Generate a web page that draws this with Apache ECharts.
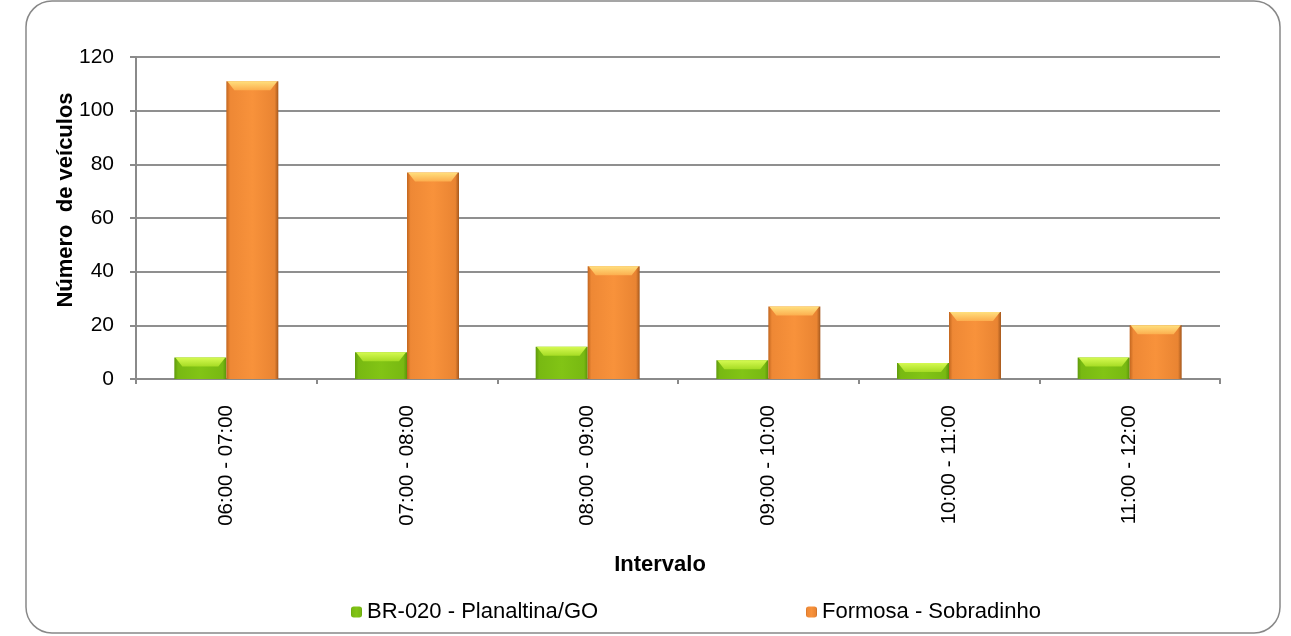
<!DOCTYPE html>
<html><head><meta charset="utf-8">
<script src="https://cdn.jsdelivr.net/npm/echarts@6/dist/echarts.min.js"></script>
<style>html,body{margin:0;padding:0;background:#fff}#c{width:1291px;height:636px}</style>
</head><body><div id="c"></div>
<script>
const categories = ['06:00 - 07:00','07:00 - 08:00','08:00 - 09:00','09:00 - 10:00','10:00 - 11:00','11:00 - 12:00'];
const seriesNames = ['BR-020 - Planaltina/GO','Formosa - Sobradinho'];
const planaltina = [8, 10, 12, 7, 6, 8];
const formosa = [111, 77, 42, 27, 25, 20];
const yTicks = [0, 20, 40, 60, 80, 100, 120];

const font = '"Liberation Sans", Arial, sans-serif';
const chart = echarts.init(document.getElementById('c'));
const greenFill = new echarts.graphic.LinearGradient(0,0,1,0,[
  {offset:0,color:'#5f9a0c'},{offset:0.07,color:'#78b912'},{offset:0.5,color:'#82c415'},{offset:0.93,color:'#78b912'},{offset:1,color:'#5a940a'}]);
const orangeFill = new echarts.graphic.LinearGradient(0,0,1,0,[
  {offset:0,color:'#c2661f'},{offset:0.07,color:'#ee8835'},{offset:0.5,color:'#f8923b'},{offset:0.93,color:'#e98432'},{offset:1,color:'#a5581d'}]);
const bevel = [
  new echarts.graphic.LinearGradient(0,0,0,1,[{offset:0,color:'#d6fa52'},{offset:1,color:'#a6dc24'}]),
  new echarts.graphic.LinearGradient(0,0,0,1,[{offset:0,color:'#ffe07e'},{offset:1,color:'#fcae4e'}])
];
const legendText = {fontFamily:font,fontSize:22,color:'#000'};
chart.setOption({
  animation:false,
  graphic:[{type:'rect',shape:{x:26,y:1,width:1254,height:632,r:26},style:{fill:'none',stroke:'#888',lineWidth:1.5}}],
  grid:{left:136,right:71,top:57,bottom:257,containLabel:false},
  legend:[
    {data:[seriesNames[0]],left:346,top:596,itemWidth:11,itemHeight:11,itemGap:8,textStyle:legendText},
    {data:[seriesNames[1]],left:801,top:596,itemWidth:11,itemHeight:11,itemGap:8,textStyle:legendText}
  ],
  xAxis:{type:'category',data:categories,name:'Intervalo',nameLocation:'middle',nameGap:175,nameMoveOverlap:false,
    nameTextStyle:{fontFamily:font,fontSize:22,fontWeight:'bold',color:'#000',padding:[0,36,0,0]},
    axisLine:{lineStyle:{color:'#8a8a8a',width:2}},
    axisTick:{show:true,length:5,lineStyle:{color:'#8a8a8a',width:2}},
    axisLabel:{rotate:90,fontFamily:font,fontSize:20.5,color:'#000',margin:26,padding:[14,0,0,0]}},
  yAxis:{type:'value',min:0,max:120,interval:20,name:'Número  de veículos',nameLocation:'middle',nameGap:59,nameMoveOverlap:false,
    nameTextStyle:{fontFamily:font,fontSize:22,fontWeight:'bold',color:'#000',padding:[0,0,0,36]},
    axisLine:{show:true,lineStyle:{color:'#8a8a8a',width:2}},
    axisTick:{show:true,length:6,lineStyle:{color:'#8a8a8a',width:2}},
    axisLabel:{fontFamily:font,fontSize:21,color:'#000',margin:22,formatter:v=>yTicks.includes(v)?String(v):''},
    splitLine:{lineStyle:{color:'#8f8f8f',width:2}}},
  series:[
    {name:seriesNames[0],type:'bar',data:planaltina,barWidth:52,barGap:'0%',
     itemStyle:{color:greenFill},emphasis:{disabled:true}},
    {name:seriesNames[1],type:'bar',data:formosa,barWidth:52,barGap:'0%',
     itemStyle:{color:orangeFill},emphasis:{disabled:true}},
    {type:'custom',name:'bevel',silent:true,data:categories.map((c,i)=>[i]),z:5,
     renderItem:function(params,api){
       const i=api.value(0);
       const items=[];
       [[planaltina[i],-1,0],[formosa[i],0,1]].forEach(function(d){
         const top=api.coord([i,d[0]]);
         const x0=top[0]+d[1]*52;
         const y0=top[1];
         items.push({type:'polygon',shape:{points:[[x0+1,y0],[x0+51,y0],[x0+44,y0+9],[x0+8,y0+9]]},style:{fill:bevel[d[2]]}});
       });
       return {type:'group',children:items};
     },encode:{x:0}}
  ]
});
</script></body></html>
